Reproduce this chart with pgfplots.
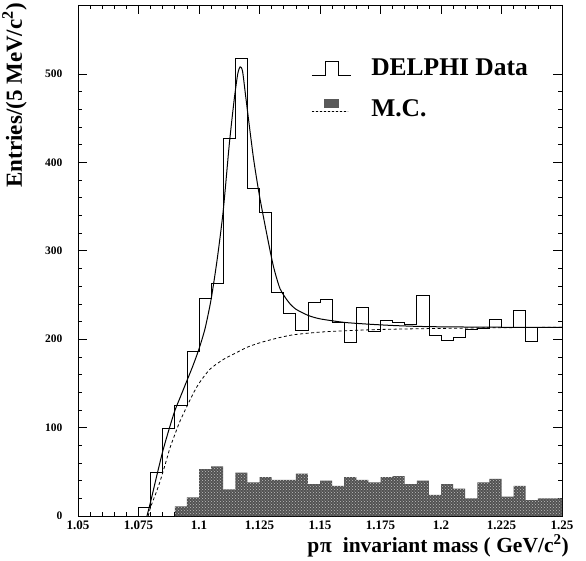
\documentclass[border=0pt]{standalone}
\usepackage{fontspec}
\setmainfont{Liberation Serif}
\usepackage{pgfplots}
\usetikzlibrary{patterns}
\pgfplotsset{compat=1.18}
\begin{document}
\begin{tikzpicture}
\begin{axis}[
 at={(0pt,0pt)}, anchor=south west,
 width=484pt, height=511pt, scale only axis,
 xmin=1.05, xmax=1.25, ymin=0, ymax=578,
 xtick={1.05,1.075,1.1,1.125,1.15,1.175,1.2,1.225,1.25},
 xticklabels={1.05,1.075,1.1,1.125,1.15,1.175,1.2,1.225,1.25},
 ytick={0,100,200,300,400,500},
 yticklabels={0,100,200,300,400,500},
 minor x tick num=4, minor y tick num=4,
 tick align=inside,
 major tick length=9pt, minor tick length=4.5pt,
 every tick/.style={black, line width=0.6pt},
 axis line style={line width=0.8pt},
 xticklabel style={font=\bfseries\fontsize{13}{15}\selectfont, yshift=-1pt},
 yticklabel style={font=\bfseries\fontsize{11.5}{13}\selectfont, xshift=-12pt},
 xlabel={p\kern1pt π\ \ invariant mass ( GeV/c\textsuperscript{2})},
 xlabel style={at={(rel axis cs:1.0213,-0.030)}, anchor=north east, font=\bfseries\fontsize{21.5}{23}\selectfont},
 ylabel={Entries/(5 MeV/c\textsuperscript{2})},
 ylabel style={at={(rel axis cs:-0.0986,1.0104)}, anchor=south east, font=\bfseries\fontsize{23}{25}\selectfont},
 legend style={at={(rel axis cs:0.476,0.902)}, anchor=north west, draw=none, fill=none,
   font=\bfseries\fontsize{25.5}{28}\selectfont, row sep=18pt},
 legend cell align=left,
 reverse legend,
]
% M.C. histogram
\addplot[const plot mark left, fill=black!68, draw=none,
  legend image code/.code={\fill[black!65] (12pt,1pt) rectangle (27pt,10pt);
    \draw[black, dash pattern=on 2pt off 2pt, line width=0.6pt] (0pt,-3pt) -- (36pt,-3pt);
    \path (57pt,0pt);}]
 coordinates {
 (1.09,11) (1.095,21) (1.1,53) (1.105,56) (1.11,30) (1.115,49) (1.12,38) (1.125,44)
 (1.13,41) (1.135,41) (1.14,48) (1.145,36) (1.15,40) (1.155,34) (1.16,44) (1.165,41)
 (1.17,38) (1.175,44) (1.18,45) (1.185,36) (1.19,40) (1.195,24) (1.2,36) (1.205,31)
 (1.21,20) (1.215,38) (1.22,42) (1.225,22) (1.23,34) (1.235,18) (1.24,20) (1.245,20) (1.25,20)
 } \closedcycle;
\addlegendentry{M.C.}
\addplot[forget plot, const plot mark left, pattern=crosshatch dots, pattern color=black!25, draw=none]
 coordinates {
 (1.09,11) (1.095,21) (1.1,53) (1.105,56) (1.11,30) (1.115,49) (1.12,38) (1.125,44)
 (1.13,41) (1.135,41) (1.14,48) (1.145,36) (1.15,40) (1.155,34) (1.16,44) (1.165,41)
 (1.17,38) (1.175,44) (1.18,45) (1.185,36) (1.19,40) (1.195,24) (1.2,36) (1.205,31)
 (1.21,20) (1.215,38) (1.22,42) (1.225,22) (1.23,34) (1.235,18) (1.24,20) (1.245,20) (1.25,20)
 } \closedcycle;
% DELPHI data histogram
\addplot[const plot mark left, black, line width=0.7pt,
  legend image code/.code={\draw[black, line width=0.7pt] (0pt,-7pt) -- (13pt,-7pt) -- (13pt,7pt) -- (26pt,7pt) -- (26pt,-7pt) -- (39pt,-7pt);
    \path (57pt,0pt);}]
 coordinates {
 (1.07,0) (1.075,10) (1.08,49) (1.085,99) (1.09,125) (1.095,186) (1.1,246) (1.105,263)
 (1.11,427) (1.115,518) (1.12,371) (1.125,344) (1.13,253) (1.135,229) (1.14,210) (1.145,242)
 (1.15,245) (1.155,219) (1.16,196) (1.165,236) (1.17,209) (1.175,221) (1.18,219) (1.185,217)
 (1.19,250) (1.195,204) (1.2,199) (1.205,202) (1.21,211) (1.215,212) (1.22,222) (1.225,213)
 (1.23,233) (1.235,198) (1.24,213) (1.245,213) (1.25,213)
 };
\addlegendentry{DELPHI Data}
% fit: total
\addplot[forget plot, black, line width=1pt, smooth, tension=0.4] coordinates {
 (1.0785,0) (1.080,16) (1.0825,45) (1.085,73) (1.0875,97) (1.090,119) (1.0925,136)
 (1.095,153) (1.0975,170) (1.100,189) (1.1025,212) (1.105,245) (1.1075,290) (1.110,345)
 (1.1125,420) (1.1145,470) (1.116,500) (1.117,508) (1.118,503) (1.1195,470) (1.1225,405)
 (1.125,362) (1.128,319) (1.1307,283) (1.1335,257) (1.137,242) (1.14,234) (1.145,227)
 (1.15,223) (1.16,219) (1.17,217) (1.18,215.5) (1.19,214.5) (1.2,214) (1.225,213.5) (1.25,213.5)
};
% fit: background
\addplot[forget plot, black, line width=0.8pt, dash pattern=on 3pt off 2.5pt, smooth, tension=0.4] coordinates {
 (1.079,0) (1.080,10) (1.0825,28) (1.084,40) (1.086,58) (1.088,77) (1.090,92) (1.0921,107)
 (1.095,124) (1.0977,139) (1.100,150) (1.1045,166) (1.11,177) (1.1142,183) (1.12,191)
 (1.1252,196) (1.132,201) (1.139,205) (1.15,208) (1.16,209.5) (1.175,211) (1.195,212)
 (1.225,213) (1.25,213.5)
};
\end{axis}
\pgfresetboundingbox
\useasboundingbox (-78pt,-44pt) rectangle (508pt,516pt);
\end{tikzpicture}
\end{document}
